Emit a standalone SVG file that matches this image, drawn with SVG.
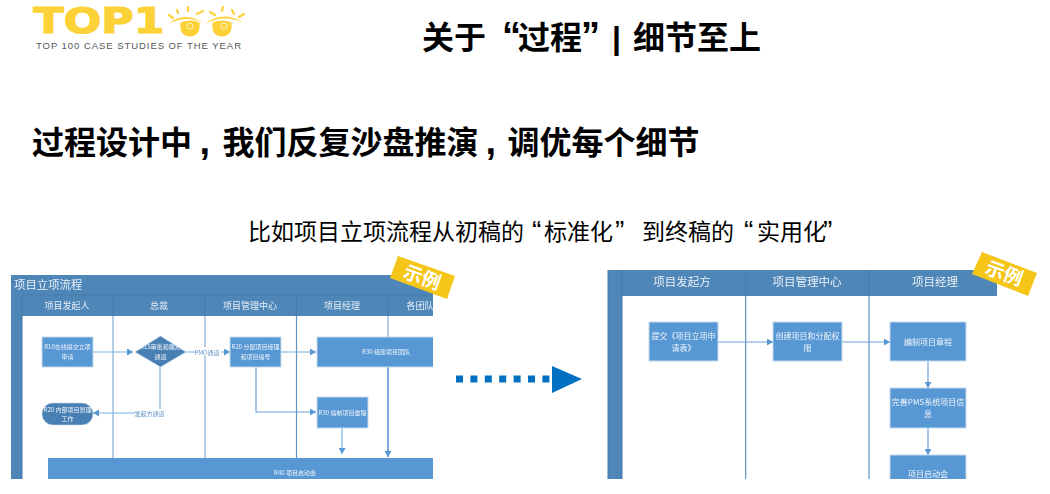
<svg xmlns="http://www.w3.org/2000/svg" width="1050" height="494" viewBox="0 0 1050 494">
<style>
text{font-family:"Noto Sans CJK SC","Liberation Sans",sans-serif}
.t{fill:#000;font-weight:700;font-size:32px}
.l{font-family:"Liberation Sans",sans-serif}
.q{font-size:38px}
.q2{font-size:28px}
.hd{fill:#4f86b8}
.ht{fill:#e8f0f7;font-size:9px;text-anchor:middle}
.hr{fill:#e8f0f7;font-size:11.5px;text-anchor:middle}
.b{fill:#5797d4;stroke:#c4d9ec;stroke-width:1}
.d{fill:#4a80b4;stroke:#c4d9ec;stroke-width:.6}
.s{fill:#eef4fa;font-size:6px;text-anchor:middle}
.r{fill:#eef4fa;font-size:8px;text-anchor:middle}
.lab{fill:#5f93c6;font-size:6px;text-anchor:middle}
.lane{stroke:#8fb3d6;stroke-width:1.3;fill:none}
.lane2{stroke:#5f92c0;stroke-width:1.2;fill:none}
.c{stroke:#7fb0e0;stroke-width:1.2;fill:none;marker-end:url(#a)}
.c2{stroke:#6aa2da;stroke-width:1.2;fill:none;marker-end:url(#a)}
.badge{fill:#f5c518}
.bt{fill:#fff;font-weight:700;font-size:19px;text-anchor:middle}
.eye{fill:#fcd238}
.ey{stroke:#fcd238;stroke-width:2.2;fill:none;stroke-linecap:round}
</style>
<defs>
<marker id="a" markerUnits="userSpaceOnUse" markerWidth="7" markerHeight="7" refX="6" refY="3.5" orient="auto"><path d="M0 0L6 3.5L0 7Z" fill="#5797d4"/></marker>
<filter id="soft" x="-2%" y="-2%" width="104%" height="104%"><feGaussianBlur stdDeviation="0.35"/></filter>
</defs>
<rect width="1050" height="494" fill="#fff"/>

<g id="logo">
<text x="33.500" y="32.500" textLength="131" lengthAdjust="spacingAndGlyphs" style="font-family:'DejaVu Sans','Liberation Sans',sans-serif;font-weight:700;font-size:35px" fill="#fcd238" stroke="#fcd238" stroke-width="1.200">TOP1</text>
<path class="eye" d="M168 24Q185 10 205 24Q188 14 168 24ZM205 24Q222 10 243 22Q222 14 205 24Z"/>
<path class="eye" d="M180.500 22.500Q190 18.500 199.500 22.500Q201 36 190 36.500Q179 36 180.500 22.500ZM212.500 22.500Q222 18.500 231.500 22.500Q233 36 222 36.500Q211 36 212.500 22.500Z"/>
<circle cx="190" cy="26" r="3" fill="none" stroke="#fff" stroke-opacity=".7"/><circle cx="224" cy="26" r="3" fill="none" stroke="#fff" stroke-opacity=".7"/>
<path class="ey" d="M169 15L173 18M177 10L178 13M188 7L188 11M197 14L203 11M210 12L215 15M223 7L222 11M232 10L234 14M239 17L244 14"/>
<text class="l" x="36" y="49" textLength="205" lengthAdjust="spacing" font-size="9.500" fill="#555">TOP 100 CASE STUDIES OF THE YEAR</text>
</g>

<g id="titles">
<text class="t" y="49"><tspan x="422">关于</tspan><tspan class="l q" x="502">“</tspan><tspan x="518">过程</tspan><tspan class="l q" x="581">”</tspan><tspan class="l" x="612">|</tspan><tspan x="633">细节至上</tspan></text>
<text class="t" y="154" font-size="31.700"><tspan x="32">过程设计中</tspan><tspan class="l q" x="199.500">,</tspan><tspan x="222.500">我们反复沙盘推演</tspan><tspan class="l q" x="485.500">,</tspan><tspan x="507.500">调优每个细节</tspan></text>
<text y="240" font-size="23" fill="#000"><tspan x="248">比如项目立项流程从初稿的</tspan><tspan class="l q2" x="532">“</tspan><tspan x="544">标准化</tspan><tspan class="l q2" x="615">”</tspan><tspan x="642">到终稿的</tspan><tspan class="l q2" x="744">“</tspan><tspan x="757">实用化</tspan><tspan class="l q2" x="823">”</tspan></text>
</g>

<g filter="url(#soft)">
<g id="left-panel">
<rect class="hd" x="11" y="275" width="422" height="20"/>
<rect class="hd" x="11" y="295" width="11" height="184"/>
<rect class="hd" x="22" y="295" width="411" height="21"/>
<path d="M22 295H433M22 295V479M113 295V316M205 295V316M296.500 295V316M388 295V316" stroke="#467aa9" stroke-width="1" fill="none"/>
<text x="14" y="289" fill="#e8f0f7" font-size="11.400">项目立项流程</text>
<text class="ht" x="67" y="309">项目发起人</text>
<text class="ht" x="159" y="309">总裁</text>
<text class="ht" x="250" y="309">项目管理中心</text>
<text class="ht" x="342" y="309">项目经理</text>
<text class="ht" x="420" y="309">各团队</text>
</g>

<g id="left-connectors">
<path class="lane" d="M113 316V458M205 316V458M388 316V337"/>
<path class="lane2" d="M296.500 316V458"/>
<path class="c" d="M93 352H133"/>
<path class="c" d="M186 352H230"/>
<path class="c" d="M160 367V413H93"/>
<path class="c" d="M281 352H316"/>
<path class="c2" d="M256 367V412H316"/>
<path class="c" d="M342 428V454"/>
<path d="M388 367V457" stroke="#5f97d0" stroke-width="1.600" fill="none" marker-end="url(#a)"/>
<rect x="195" y="347" width="26" height="9" fill="#fff"/>
<text class="lab" x="207" y="354.500">PMO通道</text>
<rect x="135" y="409" width="29" height="8" fill="#fff"/>
<text class="lab" x="149.500" y="416">发起方通道</text>
</g>

<g id="l-r10"><rect class="b" x="42" y="337" width="51" height="30"/><text class="s" x="67.500" y="349">R10在线提交立项</text><text class="s" x="67.500" y="359">申请</text></g>
<g id="l-r15"><path class="d" d="M135 352L160.500 336L186 352L160.500 367Z"/><text class="s" x="160.500" y="349">R15审批和确定</text><text class="s" x="160.500" y="359">通道</text></g>
<g id="l-r20a"><rect class="d" x="42" y="403" width="51" height="22" rx="11"/><text class="s" x="67.500" y="411.500">R20 内部项目管理</text><text class="s" x="67.500" y="421">工作</text></g>
<g id="l-r20b"><rect class="b" x="230" y="337" width="51" height="30"/><text class="s" x="255.500" y="349">R20 分配项目经理</text><text class="s" x="255.500" y="359">和项目编号</text></g>
<g id="l-r30a"><path class="b" d="M433 337H317V367H433"/><text class="s" x="386" y="353.500">R30 组建项目团队</text></g>
<g id="l-r30b"><rect class="b" x="317" y="397" width="51" height="31"/><text class="s" x="342.500" y="414.500">R30 编制项目章程</text></g>
<g id="l-r40"><rect x="48" y="458" width="385" height="21" fill="#5797d4"/><text class="s" x="295" y="475">R40 项目启动会</text></g>

<g id="right-panel">
<rect class="hd" x="608" y="270" width="14" height="209"/>
<rect class="hd" x="622" y="270" width="375" height="26"/>
<path d="M608 270V479M622 270V479M745.700 270V296M869 270V296" stroke="#467aa9" stroke-width="1" fill="none"/>
<text class="hr" x="682" y="286">项目发起方</text>
<text class="hr" x="807" y="286">项目管理中心</text>
<text class="hr" x="935" y="286">项目经理</text>
</g>

<g id="right-connectors">
<path class="lane2" d="M745.700 296V479M869 296V479"/>
<path class="c2" d="M718 342H773"/>
<path class="c2" d="M842 342H890"/>
<path class="c2" d="M928 361V388"/>
<path class="c2" d="M928 428V455"/>
</g>

<g id="r-submit"><rect class="b" x="649" y="322" width="69" height="39"/><text class="r" x="683.500" y="339">提交《项目立项申</text><text class="r" x="683.500" y="351">请表》</text></g>
<g id="r-create"><rect class="b" x="773" y="322" width="69" height="39"/><text class="r" x="807.500" y="339">创建项目和分配权</text><text class="r" x="807.500" y="351">限</text></g>
<g id="r-charter"><rect class="b" x="890" y="322" width="76" height="39"/><text class="r" x="928" y="345">编制项目章程</text></g>
<g id="r-pms"><rect class="b" x="890" y="388" width="76" height="40"/><text class="r" x="928" y="405">完善PMS系统项目信</text><text class="r" x="928" y="417">息</text></g>
<g id="r-kick"><path class="b" d="M890 479V455H966V479"/><text class="r" x="928" y="477">项目启动会</text></g>
</g>

<g id="badge-left"><path class="badge" d="M398 256L455 276L447 299L390 278Z"/><text class="bt" x="422" y="284" transform="rotate(20 422 278)">示例</text></g>
<g id="badge-right"><path class="badge" d="M982 252L1037 273L1028 296L972 274Z"/><text class="bt" x="1004" y="280" transform="rotate(20 1004 274)">示例</text></g>

<g id="transition-arrow">
<path d="M456 379H552" stroke="#0070c0" stroke-width="7" stroke-dasharray="7 7.400" fill="none"/>
<path d="M552 366L582 379L552 393Z" fill="#0070c0"/>
</g>
</svg>
